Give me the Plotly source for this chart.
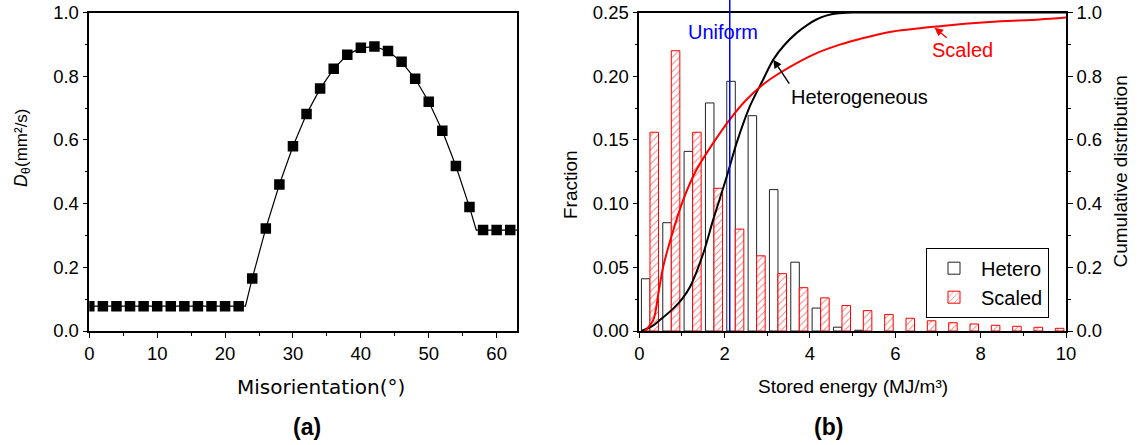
import plotly.graph_objects as go

W, H = 1141, 445
FONT = "Liberation Sans, Arial, sans-serif"

# ---------------- Panel (a) data ----------------
mis_angle = [0, 2, 4, 6, 8, 10, 12, 14, 16, 18, 20, 22, 24, 26, 28, 30,
             32, 34, 36, 38, 40, 42, 44, 46, 48, 50, 52, 54, 56, 58, 60, 62]
d_theta = [0.078, 0.078, 0.078, 0.078, 0.078, 0.078, 0.078, 0.078, 0.078, 0.078,
           0.078, 0.078, 0.165, 0.322, 0.460, 0.580, 0.681, 0.761, 0.823, 0.867,
           0.889, 0.893, 0.879, 0.845, 0.792, 0.720, 0.629, 0.518, 0.389, 0.317,
           0.317, 0.317]
fit_angle = [0, 23, 24, 26, 28, 30, 32, 34, 36, 38, 40, 42, 44, 46, 48, 50,
             52, 54, 56, 57, 63]
fit_d = [0.078, 0.078, 0.165, 0.322, 0.460, 0.580, 0.681, 0.761, 0.823, 0.867,
         0.889, 0.893, 0.879, 0.845, 0.792, 0.720, 0.629, 0.518, 0.389, 0.317, 0.317]

# ---------------- Panel (b) data ----------------
bin_centers = [0.25, 0.75, 1.25, 1.75, 2.25, 2.75, 3.25, 3.75, 4.25, 4.75,
               5.25, 5.75, 6.25, 6.75, 7.25, 7.75, 8.25, 8.75, 9.25, 9.75]
hetero_frac = [0.041, 0.085, 0.141, 0.179, 0.196, 0.169, 0.111, 0.054, 0.018, 0.003, 0.0006]
scaled_frac = [0.156, 0.220, 0.156, 0.112, 0.080, 0.059, 0.045, 0.034, 0.026, 0.020,
               0.016, 0.013, 0.010, 0.008, 0.0065, 0.0055, 0.0045, 0.0037, 0.0029, 0.0021]

hetero_cum_x = [0.05, 0.3, 0.49, 0.8, 1.0, 1.19, 1.5, 1.73, 2.05, 2.28, 2.59, 2.9,
                3.14, 3.4, 3.69, 3.95, 4.15, 4.4, 4.62, 5.0, 6.0, 8.0, 10.0]
hetero_cum_y = [0.0, 0.015, 0.035, 0.071, 0.1, 0.139, 0.244, 0.349, 0.485, 0.590,
                0.705, 0.789, 0.852, 0.898, 0.936, 0.962, 0.978, 0.991, 0.997, 1.0,
                1.0, 1.0, 1.0]
scaled_cum_x = [0.13, 0.33, 0.45, 0.56, 0.8, 1.03, 1.34, 1.73, 2.12, 2.51, 2.9, 3.29,
                4.08, 4.7, 5.17, 5.87, 7.04, 8.21, 9.38, 10.0]
scaled_cum_y = [0.0, 0.035, 0.12, 0.202, 0.318, 0.412, 0.506, 0.590, 0.664, 0.726,
                0.774, 0.810, 0.868, 0.899, 0.917, 0.939, 0.957, 0.970, 0.978, 0.984]
uniform_energy = 2.12

# plot-area geometry (pixels)
top_px, bot_px = 12.5, 331
ydom = [1 - bot_px / H, 1 - top_px / H]
xdom_a = [89.3 / W, 517 / W]
xdom_b = [639.3 / W, 1066 / W]

fig = go.Figure()

# Panel (a)
fig.add_trace(go.Scatter(x=fit_angle, y=fit_d, mode="lines",
                         line=dict(color="black", width=1.2),
                         xaxis="x", yaxis="y", showlegend=False, hoverinfo="skip"))
fig.add_trace(go.Scatter(x=mis_angle, y=d_theta, mode="markers",
                         marker=dict(symbol="square", size=10.5, color="black"),
                         xaxis="x", yaxis="y", showlegend=False))

# Panel (b) bars
fig.add_trace(go.Bar(x=bin_centers[:len(hetero_frac)], y=hetero_frac, name="Hetero",
                     marker=dict(color="white", line=dict(color="#222222", width=1)),
                     xaxis="x2", yaxis="y2"))
fig.add_trace(go.Bar(x=bin_centers, y=scaled_frac, name="Scaled",
                     marker=dict(color="white", line=dict(color="red", width=1),
                                 pattern=dict(shape="/", fgcolor="red", bgcolor="white",
                                              size=5, solidity=0.2)),
                     xaxis="x2", yaxis="y2"))
# cumulative curves
fig.add_trace(go.Scatter(x=hetero_cum_x, y=hetero_cum_y, mode="lines",
                         line=dict(color="black", width=2, shape="spline", smoothing=0.8),
                         xaxis="x2", yaxis="y3", showlegend=False))
fig.add_trace(go.Scatter(x=scaled_cum_x, y=scaled_cum_y, mode="lines",
                         line=dict(color="red", width=2, shape="spline", smoothing=0.8),
                         xaxis="x2", yaxis="y3", showlegend=False))

axis_common = dict(showline=True, linecolor="black", linewidth=1.5, ticks="outside",
                   ticklen=5, tickwidth=1, tickcolor="black", showgrid=False,
                   zeroline=False, automargin=False,
                   tickfont=dict(family=FONT, size=18.5, color="black"))

def minor(d):
    return dict(ticks="outside", ticklen=3, tickwidth=1, tickcolor="black", dtick=d,
                showgrid=False)

fig.update_layout(
    width=W, height=H, margin=dict(l=0, r=0, t=0, b=0, pad=0, autoexpand=False),
    paper_bgcolor="white", plot_bgcolor="white",
    barmode="group", bargap=0.2, bargroupgap=0,
    xaxis=dict(domain=xdom_a, range=[0, 63], anchor="y", mirror=True, dtick=10,
               tick0=0, minor=minor(5), **axis_common),
    yaxis=dict(domain=ydom, range=[0, 1.0], anchor="x", mirror=True, dtick=0.2,
               tick0=0, tickformat=".1f", minor=minor(0.1), **axis_common),
    xaxis2=dict(domain=xdom_b, range=[0, 10], anchor="y2", mirror=True, dtick=2,
                tick0=0, minor=minor(1), **axis_common),
    yaxis2=dict(domain=ydom, range=[0, 0.25], anchor="x2", dtick=0.05, tick0=0,
                tickformat=".2f", minor=minor(0.025), **axis_common),
    yaxis3=dict(range=[0, 1.0], anchor="x2", overlaying="y2", side="right",
                dtick=0.2, tick0=0, tickformat=".1f", minor=minor(0.1), **axis_common),
    legend=dict(x=926 / W, y=1 - 247.7 / H, xanchor="left", yanchor="top",
                bordercolor="black", borderwidth=1, bgcolor="white",
                font=dict(family=FONT, size=20, color="black"),
                tracegroupgap=0, itemwidth=44),
    shapes=[dict(type="line", xref="x2", yref="paper", x0=uniform_energy,
                 x1=uniform_energy, y0=ydom[0], y1=1.0,
                 line=dict(color="#0000ff", width=1.5))],
)

def ann(text, px, py, size=19, angle=0, color="black", family=FONT):
    fig.add_annotation(text=text, x=px / W, y=1 - py / H, xref="paper", yref="paper",
                       showarrow=False, textangle=angle, xanchor="center",
                       yanchor="middle", font=dict(family=family, size=size, color=color))

# y-title of panel (a): D (italic) with subscript theta, then units
ann("<i>D</i>", 21, 181, size=17.5, angle=-90)
ann("θ", 26, 171, size=12, angle=-90)
ann("(mm²/s)", 21, 138, size=17, angle=-90)
ann("Misorientation(°)", 321, 386.7, size=20, family="DejaVu Sans, Verdana, sans-serif")
ann("<b>(a)</b>", 306.7, 426.7, size=23)
ann("Fraction", 570, 185, size=19, angle=-90)
ann("Cumulative distribution", 1120, 171.5, size=19, angle=-90)
ann("Stored energy (MJ/m³)", 853, 386.7, size=19)
ann("<b>(b)</b>", 829, 426.7, size=23)

# in-plot labels (with their pointer arrows)
fig.add_annotation(text="Uniform", x=1.95, y=0.94, xref="x2", yref="y3",
                   showarrow=False, font=dict(family=FONT, size=20, color="#0000ff"))
fig.add_annotation(text="Heterogeneous", x=3.14, y=0.852, xref="x2", yref="y3",
                   ax=16, ay=24, xanchor="left", yanchor="top",
                   showarrow=True, arrowhead=2, arrowsize=1.2, arrowwidth=1.4,
                   arrowcolor="black",
                   font=dict(family=FONT, size=20, color="black"))
fig.add_annotation(text="Scaled", x=6.92, y=0.952, xref="x2", yref="y3",
                   ax=27.5, ay=22.4, xanchor="center", yanchor="middle",
                   showarrow=True, arrowhead=2, arrowsize=1.2, arrowwidth=1.4,
                   arrowcolor="red",
                   font=dict(family=FONT, size=20, color="red"))

fig.write_html("out.html")
